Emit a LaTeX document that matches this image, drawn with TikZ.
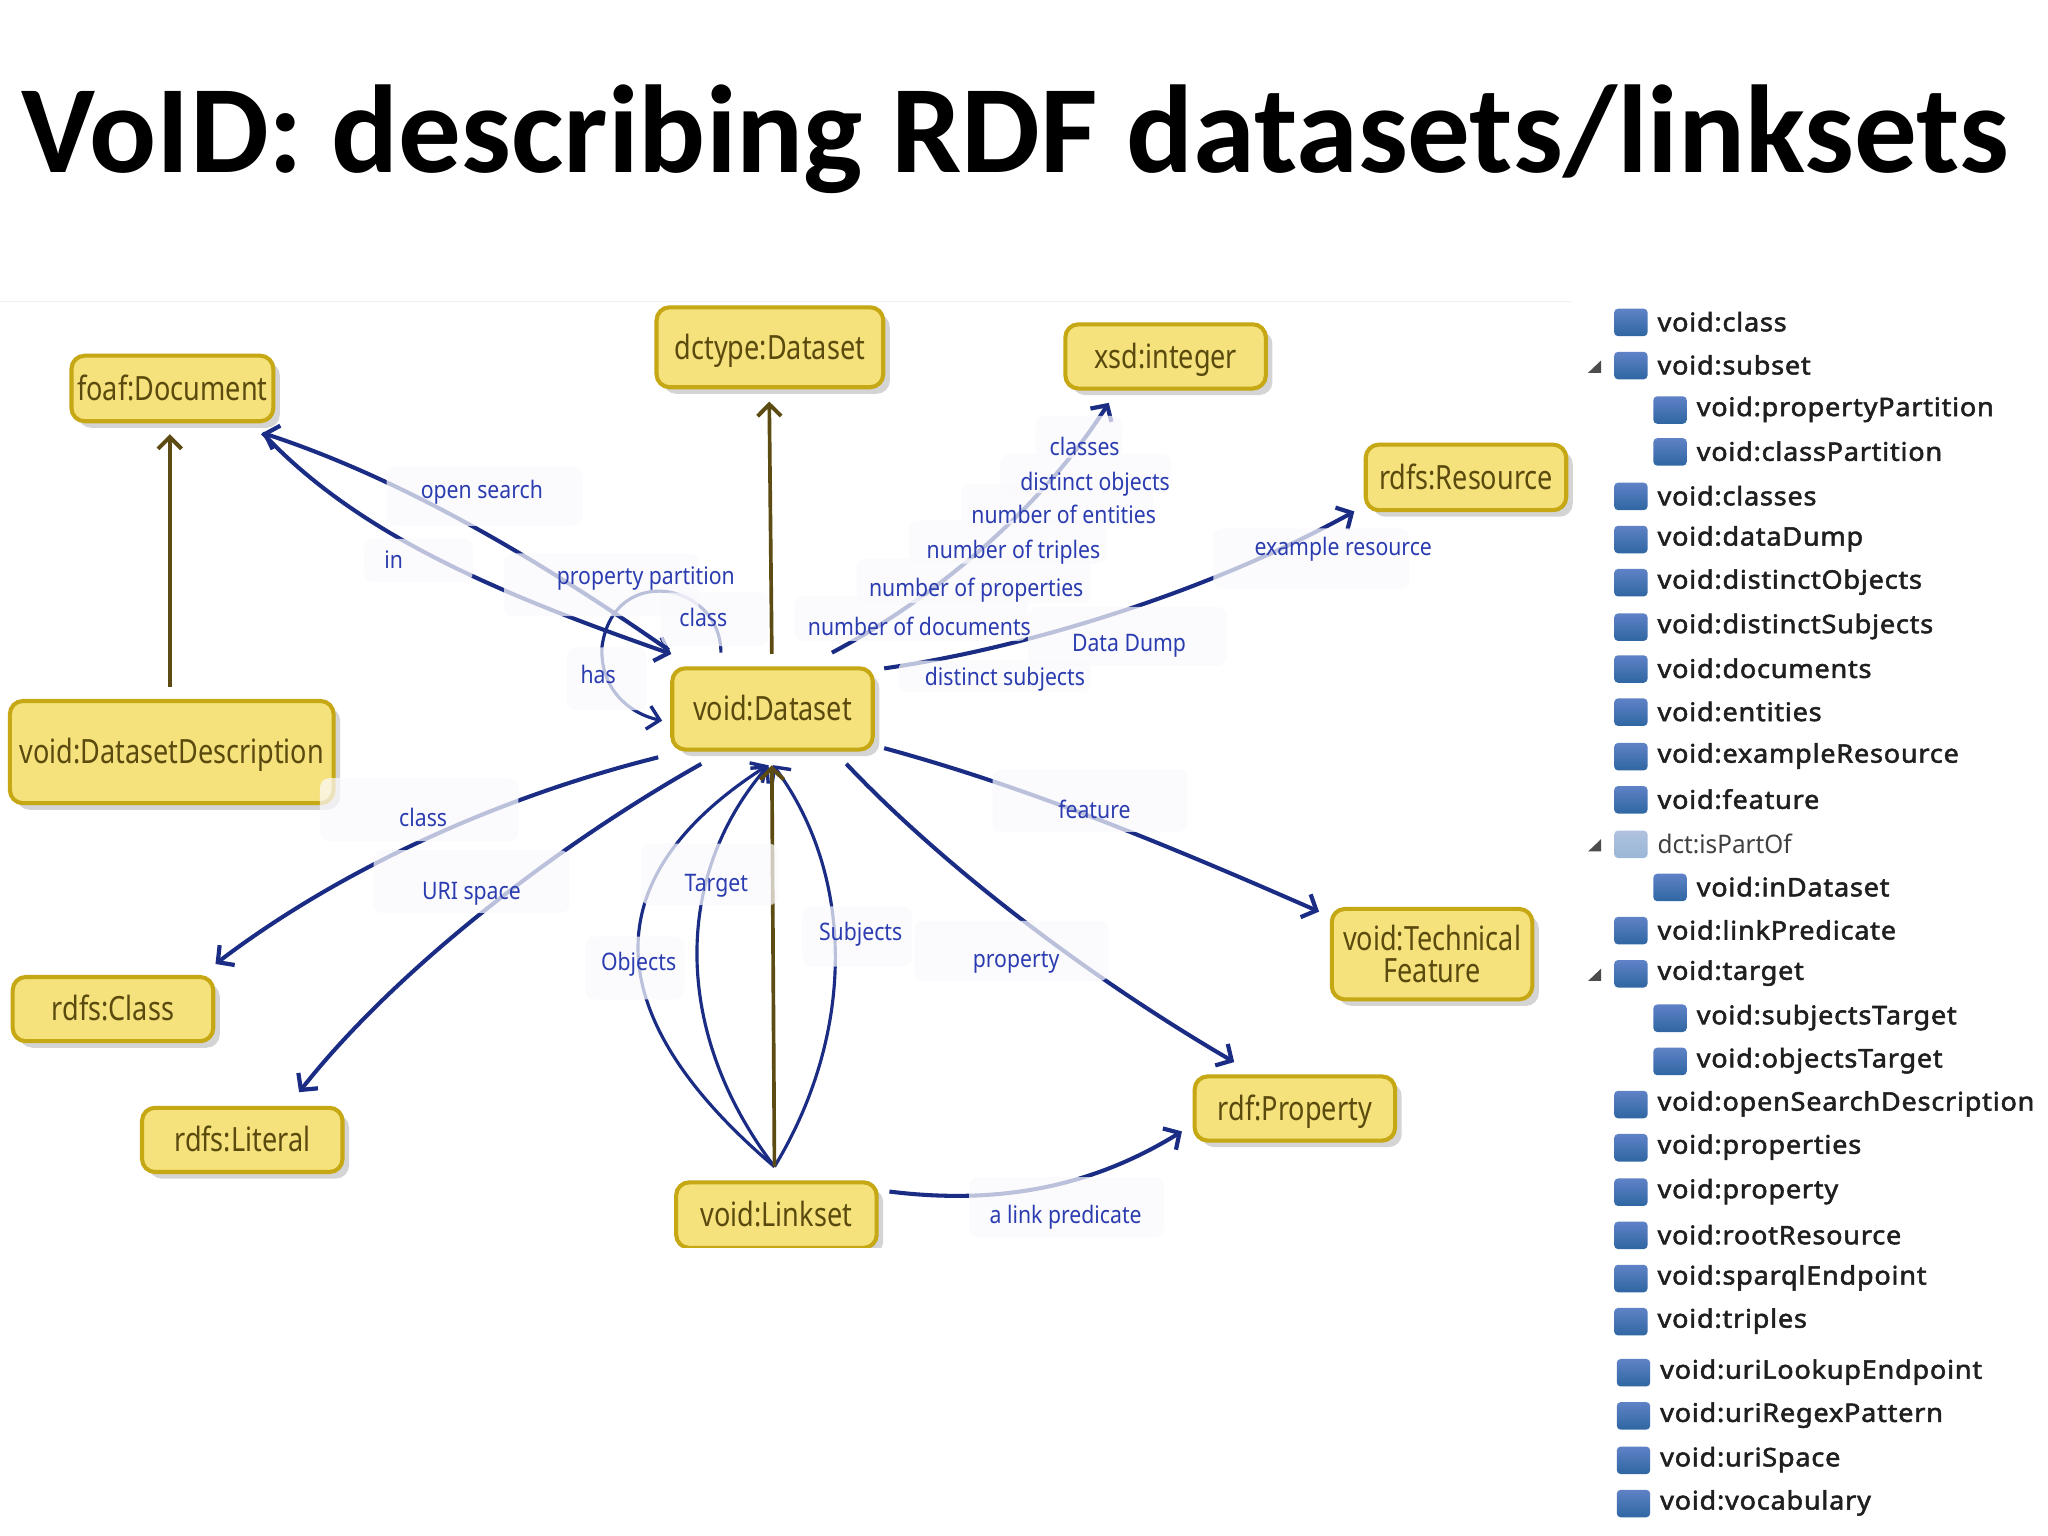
\documentclass[tikz,border=0pt]{standalone}
\usepackage{fontspec}
\setmainfont{Noto Sans}
\newfontfamily\titlefont{Carlito}
\newfontfamily\boxfont{Noto Sans}[FakeStretch=0.81]
\newfontfamily\lblfont{Noto Sans}[FakeStretch=0.88]
\newfontfamily\listfont{Noto Sans}[FakeStretch=1.06,LetterSpace=3,FakeBold=2]
\newfontfamily\plainlistfont{Noto Sans}[FakeStretch=0.95]
\usetikzlibrary{arrows.meta,shadows,calc}
\definecolor{boxfill}{HTML}{F5E27C}
\definecolor{boxline}{HTML}{C6A714}
\definecolor{boxtext}{HTML}{5A4A0E}
\definecolor{navy}{HTML}{1A2C84}
\definecolor{brownedge}{HTML}{5C4B12}
\definecolor{lbltext}{HTML}{2B3CB0}
\definecolor{backdrop}{HTML}{FAFAFD}
\definecolor{icontop}{HTML}{5F82C6}
\definecolor{iconbot}{HTML}{2F66A2}
\definecolor{iconlttop}{HTML}{B0C2E0}
\definecolor{iconltbot}{HTML}{9AB6D6}
\tikzset{
  classbox/.style={draw=boxline,fill=boxfill,line width=3.1pt,rounded corners=10pt,inner sep=0pt,align=center,
    text=boxtext,font=\boxfont\fontsize{25.5}{29}\selectfont,
    drop shadow={shadow xshift=5pt,shadow yshift=-5pt,fill=black!30,opacity=.55}},
  oneline/.style={classbox,text height=23pt,text depth=5pt},
  navyedge/.style={draw=navy,line width=3.1pt,-{Straight Barb[length=9pt,width=19pt,line width=3.2pt]}},
  navythin/.style={draw=navy,line width=2.4pt,-{Straight Barb[length=9pt,width=18pt,line width=2.6pt]}},
  brownarrow/.style={draw=brownedge,line width=2.8pt,-{Straight Barb[length=9pt,width=18pt,line width=3pt]}},
  lbl/.style={text=lbltext,inner sep=0pt,font=\lblfont\fontsize{18.4}{21}\selectfont},
  listlbl/.style={text=black!88,anchor=west,inner sep=0pt,font=\listfont\fontsize{19.5}{22}\selectfont},
  plainlbl/.style={text=black!75,anchor=west,inner sep=0pt,font=\plainlistfont\fontsize{19.5}{22}\selectfont},
  iconbox/.style={minimum width=25.5pt,minimum height=21pt,inner sep=0pt,rounded corners=3pt,
    top color=icontop,bottom color=iconbot},
  iconlight/.style={iconbox,top color=iconlttop,bottom color=iconltbot},
}
\newcommand{\lab}[8]{% name x1 y1 x2 y2 tx ty text
  \fill[backdrop,opacity=.72,rounded corners=7pt] (#2,#3) rectangle (#4,#5);
  \node[lbl] (#1) at (#6,#7) {#8};}
\newcommand{\prow}[4]{% id x y text
  \node[iconbox] (i#1) at (#2+12.75,#3+.5) {};
  \node[listlbl] (t#1) at (#2+33,#3) {#4};}
\newcommand{\twist}[2]{% id, pos of triangle
  \fill[black!70] (1216,#2+6) -- (1226,#2+6) -- (1226,#2-3.5) -- cycle;}
\begin{document}
\begin{tikzpicture}[x=0.9965pt,y=-0.998pt]
\useasboundingbox (0pt,0pt) rectangle (1562.67pt,-1172pt);
\fill[white] (0pt,0pt) rectangle (1562.67pt,-1172pt);
\draw[black!6,line width=1pt] (0,230.5) -- (1203,230.5);
\node[font=\titlefont\bfseries\fontsize{95.4}{110}\selectfont,text=black,inner sep=0pt] (title) at (777.5,106.5) {VoID: describing RDF datasets/linksets};
%
\node[oneline,minimum width=154pt,minimum height=50pt] (foaf) at (132,297) {foaf:Document};
\node[oneline,minimum width=173pt,minimum height=61pt] (dctype) at (589.5,265.5) {dctype:Dataset};
\node[oneline,minimum width=153pt,minimum height=49pt] (xsd) at (892.5,272.5) {xsd:integer};
\node[oneline,minimum width=153pt,minimum height=50pt] (res) at (1122.5,365) {rdfs:Resource};
\node[oneline,minimum width=247pt,minimum height=78pt] (dd) at (131.5,575) {void:DatasetDescription};
\node[oneline,minimum width=153pt,minimum height=62pt] (ds) at (591.5,542) {void:Dataset};
\node[oneline,minimum width=153pt,minimum height=49pt] (cls) at (86.5,771.5) {rdfs:Class};
\node[oneline,minimum width=153pt,minimum height=49pt] (lit) at (185.5,871.5) {rdfs:Literal};
\node[classbox,minimum width=153pt,minimum height=69pt] (tech) at (1096.5,729.5) {void:Technical\\[-5pt]Feature};
\node[oneline,minimum width=153pt,minimum height=49pt] (prop) at (991.5,847.5) {rdf:Property};
\begin{scope}
\clip (500,890) rectangle (690,954);
\node[oneline,minimum width=153pt,minimum height=50pt] (ls) at (594.5,929) {void:Linkset};
\end{scope}
%
\draw[brownarrow] ([shift={(-1.5,-50)}]dd.center) -- ([shift={(-2,35)}]foaf.center);
\draw[brownarrow] ([shift={(-.5,-42)}]ds.center) -- ([shift={(-.5,41.5)}]dctype.center);
\draw[navyedge] ([shift={(-79.5,-45)}]ds.center) .. controls (430,440) and (320,370) .. ([shift={(69,34)}]foaf.center);
\draw[navyedge] ([shift={(69,34)}]foaf.center) .. controls (275,410) and (385,455) .. ([shift={(-77.5,-42)}]ds.center);
\draw[navythin] ([shift={(-39.5,-43)}]ds.center) .. controls (552,445) and (470,430) .. (461,494) .. controls (459,525) and (480,545) .. ([shift={(-84.5,9)}]ds.center);
\draw[navyedge] ([shift={(45.5,-43)}]ds.center) .. controls (720,455) and (800,385) .. ([shift={(-43.5,35.5)}]xsd.center);
\draw[navyedge] ([shift={(85.5,-31)}]ds.center) .. controls (790,495) and (930,450) .. ([shift={(-85.5,26)}]res.center);
\draw[navyedge] ([shift={(85.5,30)}]ds.center) .. controls (780,600) and (880,640) .. ([shift={(-86.5,-32.5)}]tech.center);
\draw[navyedge] ([shift={(56.5,42)}]ds.center) .. controls (720,660) and (830,745) .. ([shift={(-46.5,-35.5)}]prop.center);
\draw[navyedge] ([shift={(86.5,-18)}]ls.center) .. controls (770,922) and (840,905) .. ([shift={(-86.5,17.5)}]prop.center);
\draw[navyedge] ([shift={(-87.5,37)}]ds.center) .. controls (380,610) and (260,665) .. ([shift={(78.5,-34.5)}]cls.center);
\draw[navyedge] ([shift={(-54.5,42)}]ds.center) .. controls (420,650) and (300,745) .. ([shift={(43.5,-36.5)}]lit.center);
\draw[navythin] ([shift={(-1.5,-37)}]ls.center) .. controls (455,775) and (455,670) .. ([shift={(-3.5,43)}]ds.center);
\draw[navythin] ([shift={(-1.5,-37)}]ls.center) .. controls (515,790) and (515,670) .. ([shift={(-3,43)}]ds.center);
\draw[navythin] ([shift={(-1.5,-37)}]ls.center) .. controls (655,790) and (655,670) .. ([shift={(.5,43)}]ds.center);
\draw[brownarrow] ([shift={(-1.5,-37)}]ls.center) -- ([shift={(-.5,43)}]ds.center);
%
\lab{lopen}{296}{357}{446}{402}{369}{376}{open search}
\lab{lin}{279}{412}{362}{445}{301.5}{428}{in}
\lab{lpp}{386}{423}{535}{471}{494.5}{442}{property partition}
\lab{lclsa}{506}{453}{588}{494}{538.5}{472}{class}
\lab{lhas}{434}{495}{495}{543}{458}{516}{has}
\lab{lclsb}{245}{595}{397}{643}{324}{625}{class}
\lab{luri}{286}{650}{436}{698}{361}{683}{URI space}
\lab{ltarget}{491}{645}{596}{692}{548.5}{677}{Target}
\lab{lobj}{448}{716}{524}{764}{489}{737}{Objects}
\lab{lsubj}{614}{693}{698}{739}{659}{714}{Subjects}
\lab{lprop}{700}{704}{849}{750}{778}{736}{property}
\lab{lfeat}{760}{588}{909}{636}{838}{619}{feature}
\lab{llink}{742}{900}{891}{946}{816}{931}{a link predicate}
\lab{lex}{929}{404}{1079}{450}{1028.5}{420}{example resource}
\lab{ldump}{787}{464}{939}{509}{864.5}{494}{Data Dump}
\lab{lsubjd}{688}{505}{835}{529}{769.5}{519}{distinct subjects}
\lab{ldocs}{608}{456}{787}{490}{704}{479}{number of documents}
\lab{lprops}{656}{427}{835}{461}{747.5}{451}{number of properties}
\lab{ltrip}{696}{398}{847}{431}{776}{422}{number of triples}
\lab{lent}{736}{370}{883}{401}{814.5}{393}{number of entities}
\lab{lobjd}{766}{347}{897}{377}{838.5}{370}{distinct objects}
\lab{lclsc}{793}{318}{859}{350}{830.5}{341}{classes}
%
\prow{a}{1236}{246}{void:class}
\prow{b}{1236}{279}{void:subset}
\prow{c}{1266}{313}{void:propertyPartition}
\prow{d}{1266}{345}{void:classPartition}
\prow{e}{1236}{379}{void:classes}
\prow{f}{1236}{412}{void:dataDump}
\prow{g}{1236}{445}{void:distinctObjects}
\prow{h}{1236}{479}{void:distinctSubjects}
\prow{i}{1236}{511}{void:documents}
\prow{j}{1236}{544}{void:entities}
\prow{k}{1236}{578}{void:exampleResource}
\prow{l}{1236}{611}{void:feature}
\node[iconlight] (im) at (1248.75,645.5) {};
\node[plainlbl] (tm) at (1269,645) {dct:isPartOf};
\prow{n}{1266}{678}{void:inDataset}
\prow{o}{1236}{711}{void:linkPredicate}
\prow{p}{1236}{744}{void:target}
\prow{q}{1266}{778}{void:subjectsTarget}
\prow{r}{1266}{811}{void:objectsTarget}
\prow{s}{1236}{844}{void:openSearchDescription}
\prow{u}{1236}{877}{void:properties}
\prow{v}{1236}{911}{void:property}
\prow{w}{1236}{944}{void:rootResource}
\prow{x}{1236}{977}{void:sparqlEndpoint}
\prow{y}{1236}{1010}{void:triples}
\prow{z}{1238}{1049}{void:uriLookupEndpoint}
\prow{aa}{1238}{1082}{void:uriRegexPattern}
\prow{ab}{1238}{1116}{void:uriSpace}
\prow{ac}{1238}{1149}{void:vocabulary}
\twist{b}{279}
\twist{m}{645}
\twist{p}{744}
\end{tikzpicture}
\end{document}
